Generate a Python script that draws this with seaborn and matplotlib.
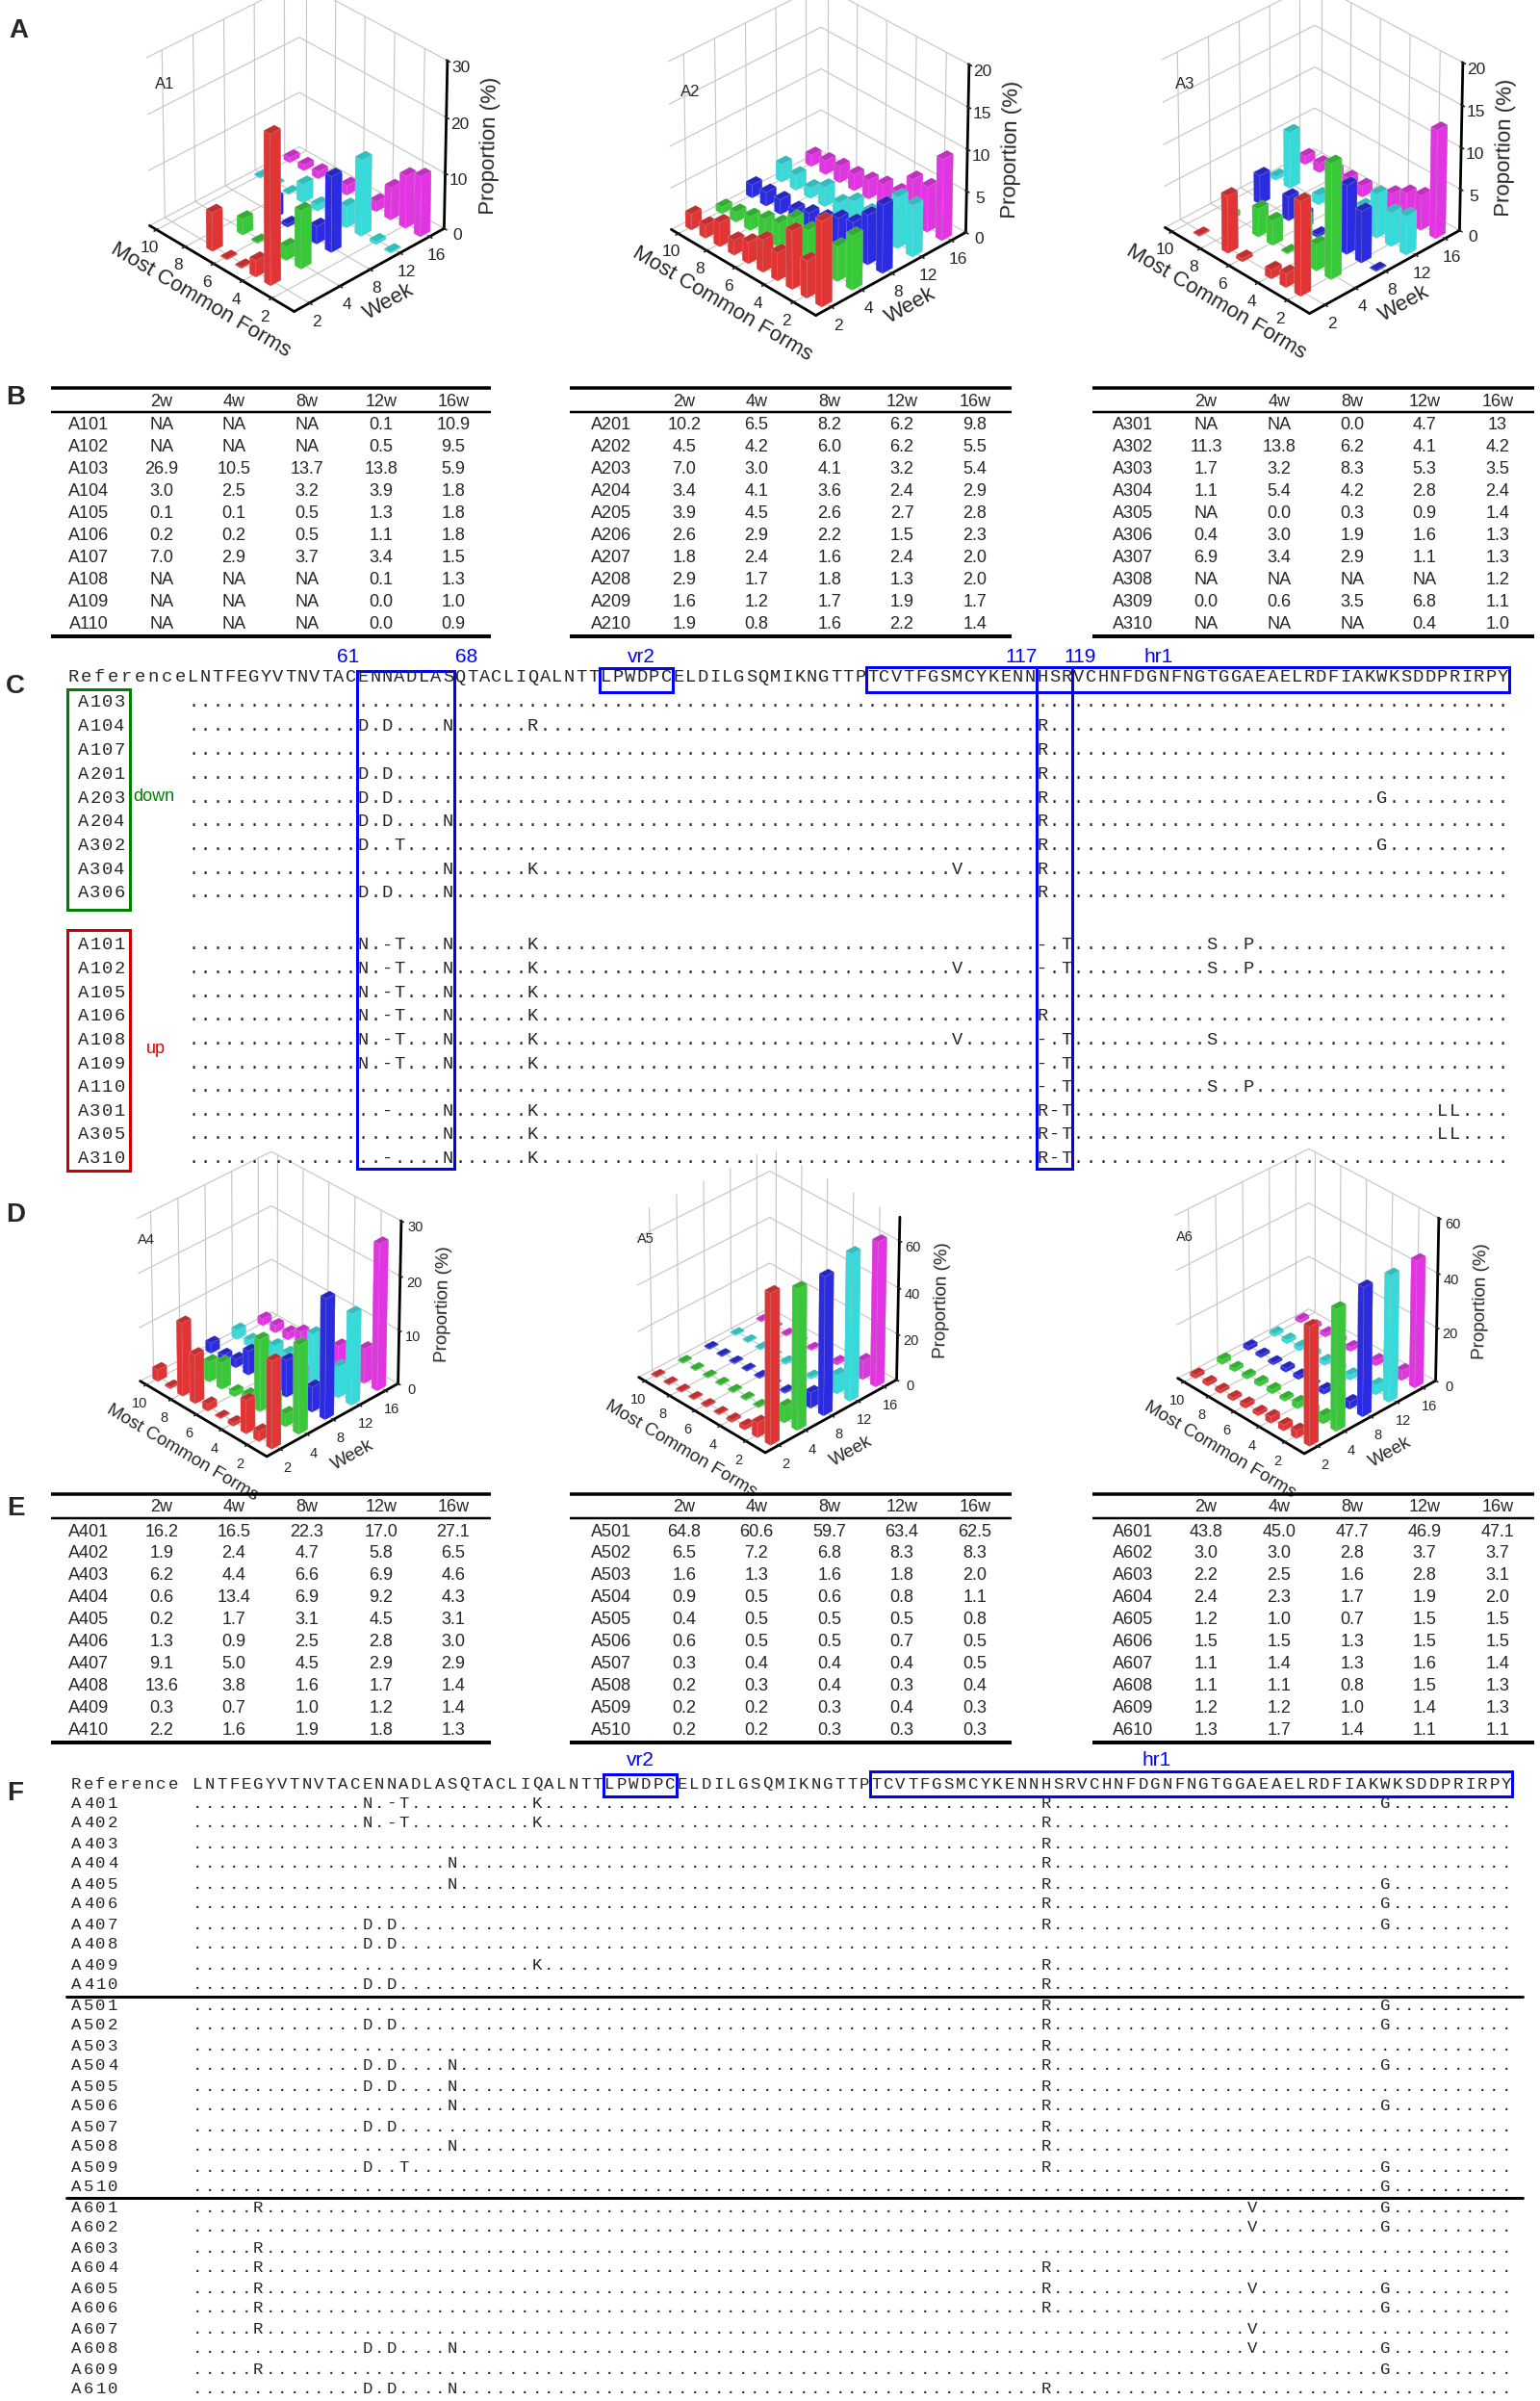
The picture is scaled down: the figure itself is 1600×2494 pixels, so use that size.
import numpy as np
import matplotlib
matplotlib.use("Agg")
import matplotlib.pyplot as plt
import seaborn as sns
from matplotlib.font_manager import FontProperties

# ---------------- data ----------------
WEEKS = ["2w", "4w", "8w", "12w", "16w"]
WEEK_TICKS = ["2", "4", "8", "12", "16"]
FORM_TICKS = [2, 4, 6, 8, 10]

A1_FORMS = ["A101", "A102", "A103", "A104", "A105", "A106", "A107", "A108", "A109", "A110"]
A1_VALUES = [["NA", "NA", "NA", "0.1", "10.9"], ["NA", "NA", "NA", "0.5", "9.5"],
             ["26.9", "10.5", "13.7", "13.8", "5.9"], ["3.0", "2.5", "3.2", "3.9", "1.8"],
             ["0.1", "0.1", "0.5", "1.3", "1.8"], ["0.2", "0.2", "0.5", "1.1", "1.8"],
             ["7.0", "2.9", "3.7", "3.4", "1.5"], ["NA", "NA", "NA", "0.1", "1.3"],
             ["NA", "NA", "NA", "0.0", "1.0"], ["NA", "NA", "NA", "0.0", "0.9"]]
A2_FORMS = ["A201", "A202", "A203", "A204", "A205", "A206", "A207", "A208", "A209", "A210"]
A2_VALUES = [["10.2", "6.5", "8.2", "6.2", "9.8"], ["4.5", "4.2", "6.0", "6.2", "5.5"],
             ["7.0", "3.0", "4.1", "3.2", "5.4"], ["3.4", "4.1", "3.6", "2.4", "2.9"],
             ["3.9", "4.5", "2.6", "2.7", "2.8"], ["2.6", "2.9", "2.2", "1.5", "2.3"],
             ["1.8", "2.4", "1.6", "2.4", "2.0"], ["2.9", "1.7", "1.8", "1.3", "2.0"],
             ["1.6", "1.2", "1.7", "1.9", "1.7"], ["1.9", "0.8", "1.6", "2.2", "1.4"]]
A3_FORMS = ["A301", "A302", "A303", "A304", "A305", "A306", "A307", "A308", "A309", "A310"]
A3_VALUES = [["NA", "NA", "0.0", "4.7", "13"], ["11.3", "13.8", "6.2", "4.1", "4.2"],
             ["1.7", "3.2", "8.3", "5.3", "3.5"], ["1.1", "5.4", "4.2", "2.8", "2.4"],
             ["NA", "0.0", "0.3", "0.9", "1.4"], ["0.4", "3.0", "1.9", "1.6", "1.3"],
             ["6.9", "3.4", "2.9", "1.1", "1.3"], ["NA", "NA", "NA", "NA", "1.2"],
             ["0.0", "0.6", "3.5", "6.8", "1.1"], ["NA", "NA", "NA", "0.4", "1.0"]]
A4_FORMS = ["A401", "A402", "A403", "A404", "A405", "A406", "A407", "A408", "A409", "A410"]
A4_VALUES = [["16.2", "16.5", "22.3", "17.0", "27.1"], ["1.9", "2.4", "4.7", "5.8", "6.5"],
             ["6.2", "4.4", "6.6", "6.9", "4.6"], ["0.6", "13.4", "6.9", "9.2", "4.3"],
             ["0.2", "1.7", "3.1", "4.5", "3.1"], ["1.3", "0.9", "2.5", "2.8", "3.0"],
             ["9.1", "5.0", "4.5", "2.9", "2.9"], ["13.6", "3.8", "1.6", "1.7", "1.4"],
             ["0.3", "0.7", "1.0", "1.2", "1.4"], ["2.2", "1.6", "1.9", "1.8", "1.3"]]
A5_FORMS = ["A501", "A502", "A503", "A504", "A505", "A506", "A507", "A508", "A509", "A510"]
A5_VALUES = [["64.8", "60.6", "59.7", "63.4", "62.5"], ["6.5", "7.2", "6.8", "8.3", "8.3"],
             ["1.6", "1.3", "1.6", "1.8", "2.0"], ["0.9", "0.5", "0.6", "0.8", "1.1"],
             ["0.4", "0.5", "0.5", "0.5", "0.8"], ["0.6", "0.5", "0.5", "0.7", "0.5"],
             ["0.3", "0.4", "0.4", "0.4", "0.5"], ["0.2", "0.3", "0.4", "0.3", "0.4"],
             ["0.2", "0.2", "0.3", "0.4", "0.3"], ["0.2", "0.2", "0.3", "0.3", "0.3"]]
A6_FORMS = ["A601", "A602", "A603", "A604", "A605", "A606", "A607", "A608", "A609", "A610"]
A6_VALUES = [["43.8", "45.0", "47.7", "46.9", "47.1"], ["3.0", "3.0", "2.8", "3.7", "3.7"],
             ["2.2", "2.5", "1.6", "2.8", "3.1"], ["2.4", "2.3", "1.7", "1.9", "2.0"],
             ["1.2", "1.0", "0.7", "1.5", "1.5"], ["1.5", "1.5", "1.3", "1.5", "1.5"],
             ["1.1", "1.4", "1.3", "1.6", "1.4"], ["1.1", "1.1", "0.8", "1.5", "1.3"],
             ["1.2", "1.2", "1.0", "1.4", "1.3"], ["1.3", "1.7", "1.4", "1.1", "1.1"]]

REF_SEQ = ("LNTFEGYVTNVTACENNADLASQTACLIQALNTTLPWDPCELDILGSQMIKNGTTP"
           "TCVTFGSMCYKENNHSRVCHNFDGNFNGTGGAEAELRDFIAKWKSDDPRIRPY")

C_DOWN_LABELS = ["A103", "A104", "A107", "A201", "A203", "A204", "A302", "A304", "A306"]
C_DOWN_MUTS = ["", "D15 D17 N22 R29 R71", "R71", "D15 D17 R71", "D15 D17 R71 G99",
               "D15 D17 N22 R71", "D15 T18 R71 G99", "N22 K29 V64 R71", "D15 D17 N22 R71"]
C_UP_LABELS = ["A101", "A102", "A105", "A106", "A108", "A109", "A110", "A301", "A305", "A310"]
C_UP_MUTS = ["N15 -17 T18 N22 K29 -71 T73 S85 P88",
             "N15 -17 T18 N22 K29 V64 -71 T73 S85 P88",
             "N15 -17 T18 N22 K29",
             "N15 -17 T18 N22 K29 R71",
             "N15 -17 T18 N22 K29 V64 -71 T73 S85",
             "N15 -17 T18 N22 K29 -71 T73",
             "-71 T73 S85 P88",
             "-17 N22 K29 R71 -72 T73 L104 L105",
             "N22 K29 R71 -72 T73 L104 L105",
             "-17 N22 K29 R71 -72 T73"]
C_MARKS = [("61", 362), ("68", 485), ("vr2", 666), ("117", 1061), ("119", 1122), ("hr1", 1204)]

F_LABELS = A4_FORMS + A5_FORMS + A6_FORMS
F_MUTS = ["N15 -17 T18 K29 R71 G99", "N15 -17 T18 K29 R71", "R71", "N22 R71", "N22 R71 G99",
          "R71 G99", "D15 D17 R71 G99", "D15 D17", "K29 R71", "D15 D17 R71",
          "R71 G99", "D15 D17 R71 G99", "R71", "D15 D17 N22 R71 G99", "D15 D17 N22 R71",
          "N22 R71 G99", "D15 D17 R71", "N22 R71", "D15 T18 R71 G99", "G99",
          "R6 V88 G99", "V88 G99", "R6", "R6 R71", "R6 R71 V88 G99",
          "R6 R71 G99", "R6 V88", "D15 D17 N22 V88 G99", "R6 G99", "D15 D17 N22 R71"]

WEEK_COLORS = sns.color_palette(["#ff3c3c", "#3fe33f", "#3131ff", "#3ff6f6", "#ff3cff"])

# ---------------- style ----------------
sns.set_theme(style="white", rc={"grid.color": "#c4c4c4", "grid.linewidth": 0.8})
plt.rcParams["font.family"] = ["Liberation Sans", "DejaVu Sans"]

W, H = 1600, 2494
fig = plt.figure(figsize=(W / 100, H / 100), dpi=100)
PX = 0.72  # px -> pt


def parse_muts(s):
    d = {}
    for tok in s.split():
        d[int(tok[1:])] = tok[0]
    return d


def draw3d(cx, cy, size, values, zmax, zticks, fs_lab, fs_tick, zoom, zasp):
    rect = [(cx - size / 2) / W, 1 - (cy + size / 2) / H, size / W, size / H]
    ax = fig.add_axes(rect, projection="3d")
    ax.set_proj_type("persp", focal_length=2.0)
    ax.set_facecolor((1, 1, 1, 0))
    xs, ys, hs, cs = [], [], [], []
    for fi, row in enumerate(values):
        for wi, s in enumerate(row):
            if s == "NA":
                continue
            xs.append(wi)
            ys.append(fi + 1)
            hs.append(max(float(s), zmax * 0.006))
            cs.append(WEEK_COLORS[wi])
    xs = np.array(xs, float)
    ys = np.array(ys, float)
    hs = np.array(hs, float)
    dx, dy = 0.34, 0.42
    ax.bar3d(xs - dx / 2, ys - dy / 2, np.zeros_like(hs), dx, dy, hs,
             color=cs, shade=True, edgecolor=(1, 1, 1, 0.35), linewidth=0.3)
    ax.set_xlim(-0.5, 4.5)
    ax.set_ylim(0.5, 10.5)
    ax.set_zlim(0, zmax)
    ax.set_xticks(range(5), WEEK_TICKS)
    ax.set_yticks(FORM_TICKS)
    ax.set_zticks(zticks)
    ax.set_box_aspect((1, 1, zasp), zoom=zoom)
    ax.view_init(elev=33, azim=-134)
    for a in (ax.xaxis, ax.yaxis, ax.zaxis):
        a.set_pane_color((1, 1, 1, 0))
        a.line.set_color("black")
        a.line.set_linewidth(2.0)
        a.set_rotate_label(True)
    ax.zaxis.set_ticks_position("lower")
    ax.zaxis.set_label_position("lower")
    ax.tick_params(labelsize=fs_tick, pad=0)
    ax.set_xlabel("Week", fontsize=fs_lab, labelpad=2)
    ax.set_ylabel("Most Common Forms", fontsize=fs_lab, labelpad=2)
    ax.set_zlabel("Proportion (%)", fontsize=fs_lab, labelpad=5)
    return ax


# panel A charts
draw3d(302, 156, 470, A1_VALUES, 30, [0, 10, 20, 30], 16, 12.5, 0.77, 0.95)
draw3d(844, 160, 470, A2_VALUES, 20, [0, 5, 10, 15, 20], 16, 12.5, 0.77, 0.95)
draw3d(1357, 158, 470, A3_VALUES, 20, [0, 5, 10, 15, 20], 16, 12.5, 0.77, 0.95)
# panel D charts
draw3d(274, 1358, 410, A4_VALUES, 30, [0, 10, 20, 30], 13.5, 10.5, 0.8, 1.05)
draw3d(792, 1354, 410, A5_VALUES, 70, [0, 20, 40, 60], 13.5, 10.5, 0.8, 1.05)
draw3d(1352, 1355, 410, A6_VALUES, 60, [0, 20, 40, 60], 13.5, 10.5, 0.8, 1.05)

# overlay in pixel coordinates
ov = fig.add_axes([0, 0, 1, 1], zorder=10)
ov.set_xlim(0, W)
ov.set_ylim(H, 0)
ov.axis("off")
ov.patch.set_alpha(0)

# panel letters
for letter, (lx, ly) in zip("ABCDEF", [(19, 32), (16, 413), (16, 713), (16, 1262), (16, 1567), (16, 1863)]):
    ov.text(lx, ly, letter, fontsize=20, fontweight="bold", ha="center", va="center")

# chart labels
for lab, (lx, ly) in zip(["A1", "A2", "A3"], [(161, 88), (707, 95), (1221, 88)]):
    ov.text(lx, ly, lab, fontsize=12, ha="left", va="center")
for lab, (lx, ly) in zip(["A4", "A5", "A6"], [(143, 1288), (662, 1287), (1222, 1285)]):
    ov.text(lx, ly, lab, fontsize=10.5, ha="left", va="center")

# tables
TABLE_X = [(53, 510, 92, [168, 243, 319, 396, 471]),
           (592, 1051, 635, [711, 786, 862, 937, 1013]),
           (1135, 1594, 1177, [1253, 1329, 1405, 1480, 1556])]
tab_font = FontProperties(family=["Liberation Sans Narrow", "Liberation Sans"], size=13)


def draw_table(x0, x1, lx, cols, ytop, forms, values):
    ov.plot([x0, x1], [ytop, ytop], color="black", lw=3.5 * PX, solid_capstyle="butt")
    ov.plot([x0, x1], [ytop + 25, ytop + 25], color="black", lw=2.5 * PX, solid_capstyle="butt")
    ov.plot([x0, x1], [ytop + 258, ytop + 258], color="black", lw=4 * PX, solid_capstyle="butt")
    for c, wk in zip(cols, WEEKS):
        ov.text(c, ytop + 14, wk, fontproperties=tab_font, ha="center", va="center")
    for k, (f, row) in enumerate(zip(forms, values)):
        yy = ytop + 39 + k * 22.9
        ov.text(lx, yy, f, fontproperties=tab_font, ha="center", va="center")
        for c, s in zip(cols, row):
            ov.text(c, yy, s, fontproperties=tab_font, ha="center", va="center")


for (x0, x1, lx, cols), forms, vals in zip(TABLE_X, [A1_FORMS, A2_FORMS, A3_FORMS],
                                            [A1_VALUES, A2_VALUES, A3_VALUES]):
    draw_table(x0, x1, lx, cols, 403, forms, vals)
for (x0, x1, lx, cols), forms, vals in zip(TABLE_X, [A4_FORMS, A5_FORMS, A6_FORMS],
                                            [A4_VALUES, A5_VALUES, A6_VALUES]):
    draw_table(x0, x1, lx, cols, 1552, forms, vals)

# ---------------- alignments ----------------
mono_c = FontProperties(family=["Liberation Mono", "DejaVu Sans Mono"], size=13.5)
mono_f = FontProperties(family=["Liberation Mono", "DejaVu Sans Mono"], size=12.5)
BLUE = "#0000ff"


def seq_row(y, muts, x0, pitch, fp, ref=False):
    for i in range(1, len(REF_SEQ) + 1):
        ch = REF_SEQ[i - 1] if ref else muts.get(i, ".")
        ov.text(x0 + (i - 0.5) * pitch, y, ch, fontproperties=fp, ha="center", va="center")


def label_row(x0, y, text, pitch, fp):
    for k, ch in enumerate(text):
        ov.text(x0 + (k + 0.5) * pitch, y, ch, fontproperties=fp, ha="center", va="center")


# panel C
CX0, CP = 194.5, 12.6
label_row(69, 703, "Reference", 13.9, mono_c)
seq_row(703, {}, CX0, CP, mono_c, ref=True)
for k, (lab, m) in enumerate(zip(C_DOWN_LABELS, C_DOWN_MUTS)):
    y = 730 + k * 24.75
    label_row(80, y, lab, 12.6, mono_c)
    seq_row(y, parse_muts(m), CX0, CP, mono_c)
for k, (lab, m) in enumerate(zip(C_UP_LABELS, C_UP_MUTS)):
    y = 982 + k * 24.6
    label_row(80, y, lab, 12.6, mono_c)
    seq_row(y, parse_muts(m), CX0, CP, mono_c)

ov.add_patch(plt.Rectangle((70, 716), 65, 229, fill=False, ec="#008000", lw=3 * PX))
ov.add_patch(plt.Rectangle((70, 966), 65, 250, fill=False, ec="#cc0000", lw=3 * PX))
ov.text(138, 828, "down", color="#008000", fontsize=13, ha="left", va="center")
ov.text(152, 1089, "up", color="#dd0000", fontsize=13, ha="left", va="center")


def bx(a, b):
    return CX0 + a * CP, CX0 + b * CP


x0, x1 = bx(14, 22)
ov.add_patch(plt.Rectangle((x0, 697), x1 - x0, 1214 - 697, fill=False, ec=BLUE, lw=3 * PX))
x0, x1 = bx(70, 73)
ov.add_patch(plt.Rectangle((x0, 693), x1 - x0, 1214 - 693, fill=False, ec=BLUE, lw=3 * PX))
x0, x1 = bx(34, 40)
ov.add_patch(plt.Rectangle((x0, 694), x1 - x0, 25, fill=False, ec=BLUE, lw=3 * PX))
x0, x1 = bx(56, 109)
ov.add_patch(plt.Rectangle((x0, 693), x1 - x0, 26, fill=False, ec=BLUE, lw=3 * PX))
for txt, xm in C_MARKS:
    ov.text(xm, 682, txt, color=BLUE, fontsize=15, ha="center", va="center")

# panel F
FX0, FP = 199.0, 12.59
label_row(73, 1853, "Reference", 12.6, mono_f)
seq_row(1853, {}, FX0, FP, mono_f, ref=True)
for k, (lab, m) in enumerate(zip(F_LABELS, F_MUTS)):
    y = 1873 + k * 21.0
    label_row(73, y + 0, lab, 12.6, mono_f)
    seq_row(y, parse_muts(m), FX0, FP, mono_f)
for ys in (2074, 2283):
    ov.plot([69, 1582], [ys, ys], color="black", lw=3 * PX)
x0, x1 = FX0 + 34 * FP, FX0 + 40 * FP
ov.add_patch(plt.Rectangle((x0, 1843), x1 - x0, 23, fill=False, ec=BLUE, lw=3 * PX))
x0, x1 = FX0 + 56 * FP, FX0 + 109 * FP
ov.add_patch(plt.Rectangle((x0, 1840), x1 - x0, 26, fill=False, ec=BLUE, lw=3 * PX))
ov.text(665, 1828, "vr2", color=BLUE, fontsize=15, ha="center", va="center")
ov.text(1202, 1828, "hr1", color=BLUE, fontsize=15, ha="center", va="center")

fig.savefig("out.png", dpi=100)
